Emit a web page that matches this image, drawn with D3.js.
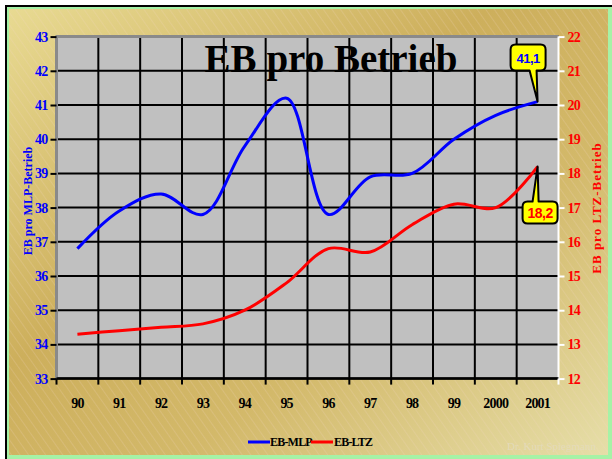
<!DOCTYPE html>
<html><head><meta charset="utf-8">
<script src="https://cdn.jsdelivr.net/npm/d3@7/dist/d3.min.js"></script>
<style>body{margin:0;background:#fff}svg{display:block}</style>
</head><body><svg id="c" width="612" height="459"></svg>
<script>
const years = ["90","91","92","93","94","95","96","97","98","99","2000","2001"];
const ebMLP = [36.8,37.9,38.4,37.8,39.8,41.2,37.8,38.9,39.0,40.0,40.7,41.1];
const ebLTZ = [13.3,13.4,13.5,13.6,14.0,14.8,15.8,15.7,16.5,17.1,17.0,18.2];
const leftTicks = [33,34,35,36,37,38,39,40,41,42,43];
const rightTicks = [12,13,14,15,16,17,18,19,20,21,22];
const seriesNames = ["EB-MLP","EB-LTZ"];
const labelMLP = "41,1", labelLTZ = "18,2";

const svg = d3.select("#c");
const W = 612, H = 459;
const L = 56.5, R = 558.5, T = 36.6, B = 378.6;
const serif = "'Liberation Serif','Times New Roman',serif";

const defs = svg.append("defs");
const g = defs.append("linearGradient").attr("id","gold").attr("x1","0").attr("y1","0").attr("x2","1").attr("y2","1");
g.append("stop").attr("offset","0").attr("stop-color","#e8da92");
g.append("stop").attr("offset","0.4").attr("stop-color","#cdaf5c");
g.append("stop").attr("offset","0.65").attr("stop-color","#d3b96a");
g.append("stop").attr("offset","1").attr("stop-color","#e6dea8");
const pat = defs.append("pattern").attr("id","hatch").attr("patternUnits","userSpaceOnUse")
  .attr("width",7).attr("height",7).attr("patternTransform","rotate(-35)");
pat.append("line").attr("x1",0).attr("y1",0).attr("x2",0).attr("y2",7)
  .attr("stroke","#f4d6c8").attr("stroke-width",0.8).attr("opacity",0.5);

// frame
svg.append("rect").attr("width",W).attr("height",H).attr("fill","#fff");
svg.append("rect").attr("x",5).attr("y",5).attr("width",W-5).attr("height",H-5).attr("fill","#000");
svg.append("rect").attr("x",7).attr("y",7).attr("width",W-7).attr("height",H-7).attr("fill","#a6f2a6");
svg.append("rect").attr("x",9).attr("y",9).attr("width",W-13).attr("height",H-13).attr("fill","url(#gold)");
svg.append("rect").attr("x",9).attr("y",9).attr("width",W-13).attr("height",H-13).attr("fill","url(#hatch)");

// scales
const x = d3.scaleBand().domain(years).range([L,R]);
const y1 = d3.scaleLinear().domain([33,43]).range([B,T]);
const y2 = d3.scaleLinear().domain([12,22]).range([B,T]);
const cx = d => x(d) + x.bandwidth()/2;

// plot area
svg.append("rect").attr("x",L).attr("y",T).attr("width",R-L).attr("height",B-T).attr("fill","#c0c0c0");
svg.append("g").selectAll("line").data(leftTicks).join("line")
  .attr("x1",L).attr("x2",R).attr("y1",d=>y1(d)).attr("y2",d=>y1(d))
  .attr("stroke","#000").attr("stroke-width",2);
svg.append("g").selectAll("line").data(years.slice(1)).join("line")
  .attr("x1",d=>x(d)).attr("x2",d=>x(d)).attr("y1",T).attr("y2",B)
  .attr("stroke","#000").attr("stroke-width",2);
// borders
svg.append("line").attr("x1",L-1).attr("x2",R).attr("y1",T).attr("y2",T).attr("stroke","#8a8a8a").attr("stroke-width",3);
svg.append("line").attr("x1",L).attr("x2",L).attr("y1",T).attr("y2",B).attr("stroke","#8a8a8a").attr("stroke-width",3);
svg.append("line").attr("x1",R).attr("x2",R).attr("y1",T).attr("y2",B).attr("stroke","#fff").attr("stroke-width",2);
svg.append("line").attr("x1",L).attr("x2",R).attr("y1",B).attr("y2",B).attr("stroke","#000").attr("stroke-width",2.5);

// left axis
const ax1 = svg.append("g").attr("transform",`translate(${L},0)`)
  .call(d3.axisLeft(y1).tickValues(leftTicks).tickSize(6).tickPadding(3).tickFormat(d3.format("d")));
ax1.select(".domain").remove();
ax1.selectAll("line").attr("stroke","#000").attr("stroke-width",2);
ax1.selectAll("text").attr("fill","#0000ff").attr("font-family",serif).attr("font-weight","bold")
  .attr("font-size",14).attr("letter-spacing",-0.8);

// right axis
const ax2 = svg.append("g").attr("transform",`translate(${R},0)`)
  .call(d3.axisRight(y2).tickValues(rightTicks).tickSize(6).tickPadding(3).tickFormat(d3.format("d")));
ax2.select(".domain").remove();
ax2.selectAll("line").attr("stroke","#fff").attr("stroke-width",2);
ax2.selectAll("text").attr("fill","#ff0000").attr("font-family",serif).attr("font-weight","bold")
  .attr("font-size",14).attr("letter-spacing",-0.8);

// bottom axis
const ax3 = svg.append("g").attr("transform",`translate(0,${B})`)
  .call(d3.axisBottom(x).tickSize(0).tickPadding(19));
ax3.select(".domain").remove();
ax3.selectAll("text").attr("fill","#000").attr("font-family",serif).attr("font-weight","bold")
  .attr("font-size",14).attr("letter-spacing",-0.8);
svg.append("g").selectAll("line").data(years.concat(["__end"])).join("line")
  .attr("x1",(d,i)=> i<years.length ? x(d) : R).attr("x2",(d,i)=> i<years.length ? x(d) : R)
  .attr("y1",B).attr("y2",B+6).attr("stroke",(d,i)=> i<years.length ? "#000" : "#fff").attr("stroke-width",2);

// lines
const line1 = d3.line().x((d,i)=>cx(years[i])).y(d=>y1(d)).curve(d3.curveCatmullRom.alpha(0.5));
const line2 = d3.line().x((d,i)=>cx(years[i])).y(d=>y2(d)).curve(d3.curveCatmullRom.alpha(0.5));
svg.append("path").attr("d",line2(ebLTZ)).attr("fill","none").attr("stroke","#ff0000").attr("stroke-width",3);
svg.append("path").attr("d",line1(ebMLP)).attr("fill","none").attr("stroke","#0000ff").attr("stroke-width",3);

// title
svg.append("text").attr("x",331).attr("y",72).attr("text-anchor","middle")
  .attr("font-family",serif).attr("font-weight","bold").attr("font-size",39).attr("fill","#000")
  .text("EB pro Betrieb");

// callouts
function callout(tx,ty,bx1,by1,bx2,by2,w1,w2,side){
  const r=5; const p=d3.path();
  p.moveTo(bx1+r,by1);
  if(side==="top"){ p.lineTo(w1,by1); p.lineTo(tx,ty); p.lineTo(w2,by1); }
  p.lineTo(bx2-r,by1); p.quadraticCurveTo(bx2,by1,bx2,by1+r);
  p.lineTo(bx2,by2-r); p.quadraticCurveTo(bx2,by2,bx2-r,by2);
  if(side==="bottom"){ p.lineTo(w2,by2); p.lineTo(tx,ty); p.lineTo(w1,by2); }
  p.lineTo(bx1+r,by2); p.quadraticCurveTo(bx1,by2,bx1,by2-r);
  p.lineTo(bx1,by1+r); p.quadraticCurveTo(bx1,by1,bx1+r,by1); p.closePath();
  svg.append("path").attr("d",p.toString()).attr("fill","#ffff00").attr("stroke","#000").attr("stroke-width",2).attr("stroke-linejoin","round");
}
const last = years[years.length-1];
const t1x = cx(last), t1y = y1(ebMLP[ebMLP.length-1]);
callout(t1x,t1y, t1x-27,t1y-57, t1x+8,t1y-31, t1x-8,t1x-1,"bottom");
svg.append("text").attr("x",t1x-9.5).attr("y",t1y-39).attr("text-anchor","middle")
  .attr("font-family","'Liberation Sans',Arial,sans-serif").attr("font-weight","bold").attr("font-size",13)
  .attr("fill","#0000ff").attr("letter-spacing",-0.5).text(labelMLP);
const t2x = cx(last), t2y = y2(ebLTZ[ebLTZ.length-1]);
callout(t2x,t2y, t2x-15,t2y+35, t2x+20,t2y+57, t2x-5,t2x+1,"top");
svg.append("text").attr("x",t2x+2.5).attr("y",t2y+51).attr("text-anchor","middle")
  .attr("font-family","'Liberation Sans',Arial,sans-serif").attr("font-weight","bold").attr("font-size",14)
  .attr("fill","#ff0000").attr("letter-spacing",-0.5).text(labelLTZ);

// axis titles
svg.append("text").attr("transform","translate(32,201) rotate(-90)").attr("text-anchor","middle")
  .attr("font-family",serif).attr("font-weight","bold").attr("font-size",12).attr("fill","#0000ff")
  .text("EB pro MLP-Betrieb");
svg.append("text").attr("transform","translate(601,208) rotate(-90)").attr("text-anchor","middle")
  .attr("font-family",serif).attr("font-weight","bold").attr("font-size",13).attr("fill","#ff0000")
  .attr("letter-spacing",1).text("EB pro LTZ-Betrieb");

// legend
const lg = svg.append("g").attr("font-family",serif).attr("font-weight","bold").attr("font-size",12).attr("fill","#000");
lg.append("line").attr("x1",248).attr("x2",270).attr("y1",442).attr("y2",442).attr("stroke","#0000ff").attr("stroke-width",3);
lg.append("text").attr("x",270).attr("y",446).attr("letter-spacing",-0.8).text(seriesNames[0]);
lg.append("line").attr("x1",311).attr("x2",333).attr("y1",442).attr("y2",442).attr("stroke","#ff0000").attr("stroke-width",3);
lg.append("text").attr("x",334).attr("y",446).attr("letter-spacing",-0.8).text(seriesNames[1]);

// watermark
svg.append("text").attr("x",507).attr("y",450).attr("font-family",serif).attr("font-size",11)
  .attr("fill","#e4dcc0").attr("opacity",0.8).text("Dr. Kurt Spiegmann");
</script></body></html>
